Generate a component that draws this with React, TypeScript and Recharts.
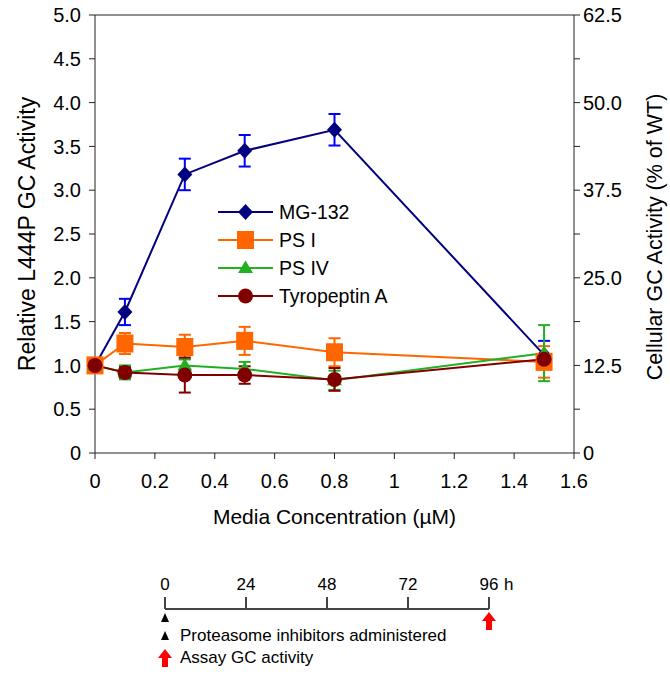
import React from 'react';
import {
  ComposedChart,
  Line,
  Scatter,
  XAxis,
  YAxis,
  ErrorBar,
  ReferenceLine,
  Label,
} from 'recharts';

// concentration (µM) on the x axis
const concentrations = [0, 0.1, 0.3, 0.5, 0.8, 1.5];

// relative L444P GC activity, mean and error
const mg132 = [1.0, 1.61, 3.18, 3.45, 3.69, 1.12];
const mg132Err = [0, 0.15, 0.18, 0.18, 0.18, 0.16];
const psI = [1.0, 1.25, 1.21, 1.28, 1.15, 1.04];
const psIErr = [0, 0.12, 0.14, 0.16, 0.16, 0.18];
const psIV = [1.0, 0.92, 1.0, 0.96, 0.83, 1.14];
const psIVErr = [0, 0.08, 0.07, 0.08, 0.11, 0.32];
const tyropeptin = [1.0, 0.92, 0.89, 0.89, 0.84, 1.07];
const tyropeptinErr = [0, 0.06, 0.2, 0.1, 0.13, 0.05];

const seriesNames = ['MG-132', 'PS I', 'PS IV', 'Tyropeptin A'];

const xTicks = [0, 0.2, 0.4, 0.6, 0.8, 1, 1.2, 1.4, 1.6];
const leftTicks = [0, 0.5, 1, 1.5, 2, 2.5, 3, 3.5, 4, 4.5, 5];
const rightTicks = [0, 6.25, 12.5, 18.75, 25, 31.25, 37.5, 43.75, 50, 56.25, 62.5];

// timeline below the chart
const hourTicks = [0, 24, 48, 72, 96];
const eventHours = [0, 96];
const eventKinds = ['admin', 'assay'];
const eventLabels = ['Proteasome inhibitors administered', 'Assay GC activity'];

const rows = concentrations.map((c, i) => ({
  conc: c,
  mg: mg132[i],
  mgErr: mg132Err[i],
  ps1: psI[i],
  ps1Err: psIErr[i],
  ps4: psIV[i],
  ps4Err: psIVErr[i],
  tyro: tyropeptin[i],
  tyroErr: tyropeptinErr[i],
}));

const events = eventHours.map((h, i) => ({ h, y: 1, kind: eventKinds[i] }));

const NAVY = '#000080';
const ORANGE = '#ff6600';
const GREEN = '#22b022';
const MAROON = '#800000';
const AXIS = '#222';
const FONT = 'Liberation Sans, Arial, sans-serif';

const styles = [
  { key: 'mg', err: 'mgErr', color: NAVY, errColor: '#0000ff', shape: 'diamond' },
  { key: 'ps1', err: 'ps1Err', color: ORANGE, errColor: ORANGE, shape: 'square' },
  { key: 'ps4', err: 'ps4Err', color: GREEN, errColor: GREEN, shape: 'triangle' },
  { key: 'tyro', err: 'tyroErr', color: MAROON, errColor: MAROON, shape: 'circle' },
];

function marker(shape: string, cx: number, cy: number, color: string, key?: string) {
  if (shape === 'diamond') {
    return <polygon key={key} points={`${cx},${cy - 8} ${cx + 7.5},${cy} ${cx},${cy + 8} ${cx - 7.5},${cy}`} fill={color} />;
  }
  if (shape === 'square') {
    return <rect key={key} x={cx - 8.5} y={cy - 9} width={17} height={18} fill={color} />;
  }
  if (shape === 'triangle') {
    return <polygon key={key} points={`${cx},${cy - 7.5} ${cx + 7.5},${cy + 5} ${cx - 7.5},${cy + 5}`} fill={color} />;
  }
  return <circle key={key} cx={cx} cy={cy} r={7.5} fill={color} />;
}

const MainLegend = () => (
  <div style={{ position: 'absolute', left: 218, top: 198, fontFamily: FONT, fontSize: 19.5, color: '#000' }}>
    {seriesNames.map((name, i) => (
      <div key={name} style={{ display: 'flex', alignItems: 'center', height: 28 }}>
        <svg width={56} height={20} style={{ marginRight: 5 }}>
          <line x1={0} y1={10} x2={55} y2={10} stroke={styles[i].color} strokeWidth={2} />
          {marker(styles[i].shape, 27.5, 10, styles[i].color)}
        </svg>
        <span>{name}</span>
      </div>
    ))}
  </div>
);

const HourTick = (props: any) => {
  const { x, y, payload } = props;
  return (
    <g>
      <text x={x} y={y} textAnchor="middle" fontSize={17} fill="#000" fontFamily={FONT}>
        {payload.value}
      </text>
      {payload.value === 96 && (
        <text x={x + 15} y={y} textAnchor="start" fontSize={17} fill="#000" fontFamily={FONT}>
          h
        </text>
      )}
    </g>
  );
};

const smallTriangle = (cx: number, top: number) => (
  <polygon points={`${cx},${top} ${cx + 4},${top + 9} ${cx - 4},${top + 9}`} fill="#000" />
);

const redArrow = (cx: number, top: number) => (
  <polygon
    points={`${cx},${top} ${cx + 7},${top + 9} ${cx + 3},${top + 9} ${cx + 3},${top + 18} ${cx - 3},${top + 18} ${cx - 3},${top + 9} ${cx - 7},${top + 9}`}
    fill="#ff0000"
  />
);

const EventShape = (props: any) => {
  const { cx, cy, payload } = props;
  return payload.kind === 'admin' ? smallTriangle(cx, cy + 4) : redArrow(cx, cy + 3);
};

const TimelineLegend = () => (
  <div style={{ position: 'absolute', left: 157, top: 625, fontFamily: FONT, fontSize: 17, color: '#000' }}>
    {eventLabels.map((label, i) => (
      <div key={label} style={{ display: 'flex', alignItems: 'center', height: 22 }}>
        <svg width={16} height={20} style={{ marginRight: 7 }}>
          {i === 0 ? smallTriangle(8, 5) : redArrow(8, 1)}
        </svg>
        <span>{label}</span>
      </div>
    ))}
  </div>
);

const fmtLeft = (v: number) => (v === 0 ? '0' : v.toFixed(1));
const fmtRight = (v: number) => (v === 0 ? '0' : v % 12.5 === 0 ? v.toFixed(1) : '');
const fmtX = (v: number) => String(Math.round(v * 10) / 10);

export default function App() {
  const tickStyle = { fill: '#000', fontSize: 20, fontFamily: FONT };
  const titleStyle = { fill: '#000', fontSize: 23, fontFamily: FONT, textAnchor: 'middle' as const };
  return (
    <div style={{ position: 'absolute', left: 0, top: 0, width: 670, height: 676, background: '#fff', fontFamily: FONT }}>
      <div style={{ position: 'absolute', left: 0, top: 0 }}>
        <ComposedChart width={670} height={540} data={rows} margin={{ top: 15, right: 0, bottom: 0, left: 0 }}>
          <XAxis
            dataKey="conc"
            type="number"
            domain={[0, 1.6]}
            ticks={xTicks}
            tickFormatter={fmtX}
            height={87}
            stroke={AXIS}
            tickSize={6}
            tickMargin={15}
            tick={tickStyle}
          >
            <Label value="Media Concentration (µM)" position="center" dy={20} style={{ ...titleStyle, fontSize: 21 }} />
          </XAxis>
          <YAxis
            yAxisId="left"
            domain={[0, 5]}
            ticks={leftTicks}
            tickFormatter={fmtLeft}
            width={95}
            stroke={AXIS}
            tickSize={6}
            tickMargin={8}
            tick={tickStyle}
          >
            <Label value="Relative L444P GC Activity" angle={-90} position="center" dx={-21} style={titleStyle} />
          </YAxis>
          <YAxis
            yAxisId="right"
            orientation="right"
            domain={[0, 62.5]}
            allowDataOverflow
            ticks={rightTicks}
            tickFormatter={fmtRight}
            width={96}
            stroke={AXIS}
            tickSize={6}
            tickMargin={3}
            tick={tickStyle}
          >
            <Label value="Cellular GC Activity (% of WT)" angle={-90} position="center" dx={32} dy={3} style={{ ...titleStyle, fontSize: 21.5 }} />
          </YAxis>
          <ReferenceLine yAxisId="left" y={5} stroke={AXIS} />
          {styles.map((s, i) => (
            <Line
              key={s.key}
              yAxisId="left"
              dataKey={s.key}
              name={seriesNames[i]}
              stroke={s.color}
              strokeWidth={2}
              isAnimationActive={false}
              dot={(p: any) => marker(s.shape, p.cx, p.cy, s.color, `${s.key}-${p.index}`)}
              activeDot={false}
            >
              <ErrorBar dataKey={s.err} direction="y" width={6} stroke={s.errColor} strokeWidth={2} />
            </Line>
          ))}
        </ComposedChart>
      </div>
      <MainLegend />
      <div style={{ position: 'absolute', left: 0, top: 560 }}>
        <ComposedChart width={670} height={116} data={events} margin={{ top: 0, right: 181, bottom: 0, left: 165 }}>
          <XAxis
            dataKey="h"
            type="number"
            orientation="top"
            domain={[0, 96]}
            ticks={hourTicks}
            height={49}
            stroke="#444"
            strokeWidth={2}
            tickSize={12}
            tickMargin={7}
            tick={<HourTick />}
          />
          <YAxis hide domain={[0, 1]} />
          <Scatter dataKey="y" shape={<EventShape />} isAnimationActive={false} />
        </ComposedChart>
      </div>
      <TimelineLegend />
    </div>
  );
}
